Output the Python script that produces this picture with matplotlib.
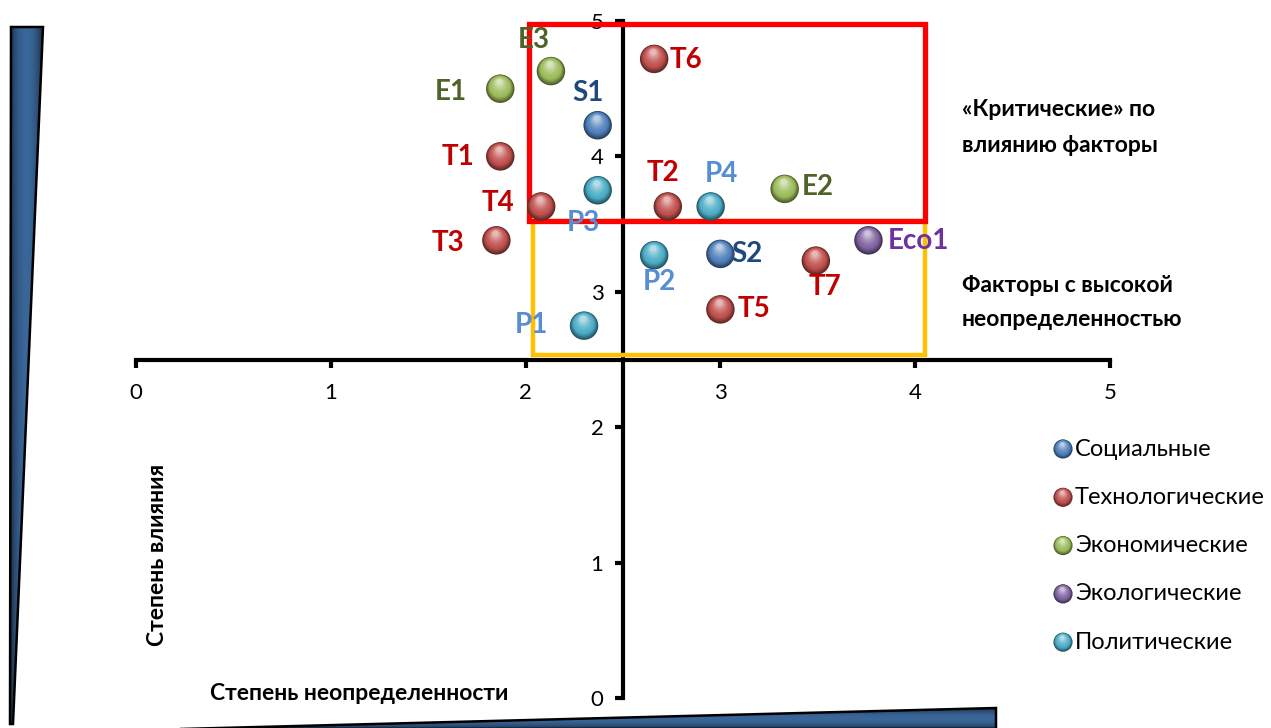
import numpy as np
import matplotlib
matplotlib.use('Agg')
import matplotlib.pyplot as plt
from matplotlib.colors import to_rgb
from matplotlib.patches import Rectangle, Polygon
from matplotlib.transforms import ScaledTranslation

plt.rcParams['font.family'] = ['Lato', 'DejaVu Sans']

# factor groups
categories = ['Социальные', 'Технологические', 'Экономические', 'Экологические', 'Политические']
cat_colors = ['#4F81BD', '#C0504D', '#9BBB59', '#8064A2', '#4BACC6']
label_colors = ['#1F497D', '#C00000', '#4F6228', '#7030A0', '#558ED5']

# factors: uncertainty (x) and impact (y)
factors = ['S1', 'S2', 'T1', 'T2', 'T3', 'T4', 'T5', 'T6', 'T7',
           'E1', 'E2', 'E3', 'Eco1', 'P1', 'P2', 'P3', 'P4']
uncertainty = [2.37, 3.00, 1.87, 2.73, 1.85, 2.08, 3.00, 2.66, 3.49,
               1.87, 3.33, 2.13, 3.76, 2.30, 2.66, 2.37, 2.95]
impact = [4.23, 3.28, 4.00, 3.63, 3.38, 3.63, 2.87, 4.72, 3.23,
          4.50, 3.76, 4.63, 3.38, 2.75, 3.27, 3.75, 3.63]
factor_cat = [0, 0, 1, 1, 1, 1, 1, 1, 1, 2, 2, 2, 3, 4, 4, 4, 4]

# zones (x0, x1, y0, y1)
critical_zone = (2.02, 4.05, 3.52, 4.98)
uncertain_zone = (2.04, 4.05, 2.53, 3.52)

# label placement relative to the point, in pixels (dx, dy)
label_offset = {
    'S1': (-10, 32), 'S2': (27, 0), 'T1': (-42, -1), 'T2': (-5, 33),
    'T3': (-48, -3), 'T4': (-43, 3), 'T5': (34, 0), 'T6': (32, -1),
    'T7': (9, -26), 'E1': (-49, -3), 'E2': (33, 2), 'E3': (-17, 31),
    'Eco1': (50, -1), 'P1': (-53, 1), 'P2': (5, -27), 'P3': (-14, -33),
    'P4': (11, 32),
}

W, H, DPI = 1271, 728, 100
fig = plt.figure(figsize=(W / DPI, H / DPI), dpi=DPI)
PX = 72 / DPI  # points per pixel


def sphere(ax, x, y, color, size, trans, z=5):
    """Fake a shaded ball with stacked circles."""
    base = np.array(to_rgb(color))
    dark = base * 0.5
    light = base + (1 - base) * 0.6
    d = np.sqrt(size)
    n = 14
    for i in range(n):
        t = i / (n - 1)
        r = 1 - 0.8 * t
        if t < 0.3:
            c = dark + (base - dark) * (t / 0.3)
        else:
            c = base + (light - base) * ((t - 0.3) / 0.7) ** 1.5
        dy = (1 - r) * d / 2 * 0.6
        dx = -(1 - r) * d / 2 * 0.08
        off = trans + ScaledTranslation(dx / 72, dy / 72, fig.dpi_scale_trans)
        ax.scatter([x], [y], s=size * r * r, color=c, edgecolors='none',
                   transform=off, zorder=z + i * 0.01, clip_on=False)


# decorative layer in pixel coordinates
deco = fig.add_axes([0, 0, 1, 1], zorder=0)
deco.set_xlim(0, W)
deco.set_ylim(H, 0)
deco.axis('off')


def wedge(pts, horizontal):
    poly = Polygon(pts, closed=True, facecolor='none', edgecolor='black', lw=1.8, zorder=3)
    deco.add_patch(poly)
    xs = [p[0] for p in pts]
    ys = [p[1] for p in pts]
    g = np.linspace(-1, 1, 64)
    prof = 1 - 0.55 * np.abs(g) ** 2.2
    top = np.array(to_rgb('#3A6699'))
    img = prof[:, None] * top[None, :]
    if horizontal:
        img = img[None, :, :]
    else:
        img = img[:, None, :]
    im = deco.imshow(img, extent=[min(xs), max(xs), max(ys), min(ys)], aspect='auto',
                     interpolation='bilinear', zorder=2)
    clip = Polygon(pts, closed=True, transform=deco.transData)
    im.set_clip_path(clip)


wedge([(11, 27), (43, 27), (13, 724), (10, 724)], horizontal=True)
wedge([(180, 729), (996, 708), (996, 729)], horizontal=False)

# main chart
ax = fig.add_axes([136 / W, 30 / H, 974 / W, 677 / H], zorder=1)
ax.patch.set_alpha(0)
ax.set_xlim(0, 5)
ax.set_ylim(0, 5)
for s in ['top', 'right']:
    ax.spines[s].set_visible(False)
ax.spines['left'].set_position(('data', 2.5))
ax.spines['bottom'].set_position(('data', 2.5))
for s in ['left', 'bottom']:
    ax.spines[s].set_linewidth(3)
    ax.spines[s].set_zorder(2)
ax.set_xticks(range(6))
ax.set_yticks(range(6))
ax.tick_params(axis='x', direction='out', length=6, width=3, pad=11, labelsize=16)
ax.tick_params(axis='y', direction='out', length=6, width=3, pad=8, labelsize=16)

x0, x1, y0, y1 = uncertain_zone
ax.add_patch(Rectangle((x0, y0), x1 - x0, y1 - y0, fill=False, edgecolor='#FFC000',
                       lw=3.2, zorder=3, clip_on=False))
x0, x1, y0, y1 = critical_zone
ax.add_patch(Rectangle((x0, y0), x1 - x0, y1 - y0, fill=False, edgecolor='#FF0000',
                       lw=3.8, zorder=4, clip_on=False))

for name, x, y, c in zip(factors, uncertainty, impact, factor_cat):
    sphere(ax, x, y, cat_colors[c], 420, ax.transData)
    dx, dy = label_offset[name]
    ax.annotate(name, (x, y), xytext=(dx * PX, dy * PX), textcoords='offset points',
                ha='center', va='center', fontsize=20, fontweight='bold',
                color=label_colors[c], zorder=6, annotation_clip=False)

# zone captions
for txt, yy in [('«Критические» по', 110), ('влиянию факторы', 146),
                ('Факторы с высокой', 286), ('неопределенностью', 320)]:
    deco.text(962, yy, txt, ha='left', va='center', fontsize=16.5, fontweight='bold')

# axis titles
deco.text(359, 694, 'Степень неопределенности', ha='center', va='center',
          fontsize=16.5, fontweight='bold')
deco.text(157, 555, 'Степень влияния', ha='center', va='center', rotation=90,
          fontsize=16.5, fontweight='bold')

# legend
for i, (cat, col) in enumerate(zip(categories, cat_colors)):
    yy = 449 + 48.3 * i
    sphere(deco, 1063, yy, col, 190, deco.transData)
    deco.text(1075, yy, cat, ha='left', va='center', fontsize=17)

fig.savefig('out.png', dpi=DPI)
